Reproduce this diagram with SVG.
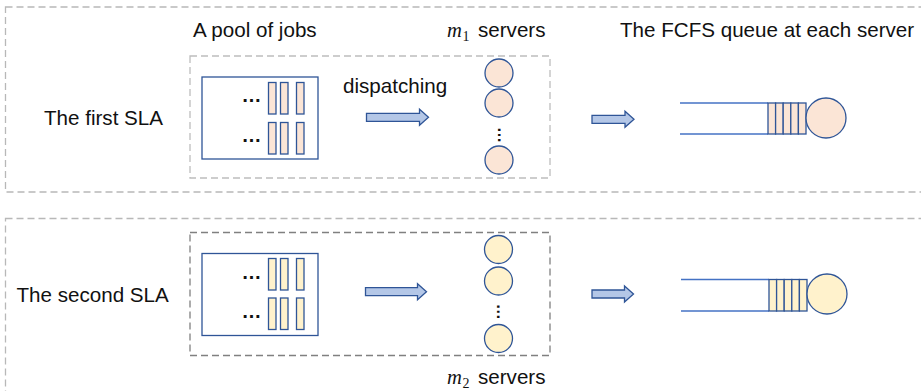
<svg xmlns="http://www.w3.org/2000/svg" width="921" height="391" viewBox="0 0 921 391">
<style>
  text { font-family: "Liberation Sans", Arial, sans-serif; font-size: 20.6px; fill: #111; }
  .math { font-family: "Liberation Serif", "Times New Roman", serif; font-style: italic; }
  .sub { font-family: "Liberation Serif", "Times New Roman", serif; font-size: 14px; }
  .outer { fill: none; stroke: #b8b8b8; stroke-width: 1.3; stroke-dasharray: 7 4; }
  .inner1 { fill: none; stroke: #bdbdbd; stroke-width: 1.3; stroke-dasharray: 7 4; }
  .inner2 { fill: none; stroke: #808080; stroke-width: 1.3; stroke-dasharray: 7 4; }
  .pool { fill: #fff; stroke: #2f5597; stroke-width: 1.3; }
  .bar1 { fill: #fbe5d6; stroke: #2f5597; stroke-width: 1.3; }
  .bar2 { fill: #fff2cc; stroke: #2f5597; stroke-width: 1.3; }
  .qline { stroke: #4472c4; stroke-width: 1.3; fill: none; }
  .arrow { fill: #b4c7e7; stroke: #2f5597; stroke-width: 1.3; stroke-linejoin: miter; }
  .dots { font-size: 20px; font-weight: bold; }
  .vdots { font-size: 16px; font-weight: bold; text-anchor: middle; }
</style>

<!-- SLA frames -->
<g id="sla1-frame">
  <rect class="outer" x="5.5" y="7" width="940" height="185"/>
  <text x="44" y="124.5">The first SLA</text>
</g>
<g id="sla2-frame">
  <rect class="outer" x="5.5" y="218.5" width="940" height="200"/>
  <text x="16.5" y="301.5">The second SLA</text>
</g>

<!-- headers -->
<g id="headers">
  <text x="193" y="36.5">A pool of jobs</text>
  <text x="447" y="36.5"><tspan class="math">m</tspan><tspan class="sub" x="462.5" y="40.5">1</tspan><tspan x="478" y="36.5">servers</tspan></text>
  <text x="620" y="36.5">The FCFS queue at each server</text>
</g>

<!-- SLA 1 -->
<g id="sla1-dispatch-box">
  <rect class="inner1" x="190" y="56" width="360" height="122"/>
  <text x="343" y="92.5">dispatching</text>
</g>
<g id="sla1-pool">
  <rect class="pool" x="202" y="77" width="116" height="82"/>
  <text class="dots" x="241.5" y="101.5">…</text>
  <text class="dots" x="241.5" y="141.5">…</text>
  <rect class="bar1" x="268.5" y="82.5" width="7.5" height="31.5"/>
  <rect class="bar1" x="280.5" y="82.5" width="7.5" height="31.5"/>
  <rect class="bar1" x="296.5" y="82.5" width="7.5" height="31.5"/>
  <rect class="bar1" x="268.5" y="122.5" width="7.5" height="31.5"/>
  <rect class="bar1" x="280.5" y="122.5" width="7.5" height="31.5"/>
  <rect class="bar1" x="296.5" y="122.5" width="7.5" height="31.5"/>
</g>
<g id="sla1-servers">
  <circle class="bar1" cx="499" cy="73" r="14"/>
  <circle class="bar1" cx="499" cy="103" r="14"/>
  <text class="vdots" x="497.5" y="135" transform="rotate(90 497.5 135)">…</text>
  <circle class="bar1" cx="499" cy="160" r="14"/>
</g>
<g id="sla1-queue">
  <line class="qline" x1="680" y1="103" x2="768" y2="103"/>
  <line class="qline" x1="680" y1="134" x2="768" y2="134"/>
  <rect class="bar1" x="768" y="103" width="7.6" height="31"/>
  <rect class="bar1" x="775.6" y="103" width="7.6" height="31"/>
  <rect class="bar1" x="783.2" y="103" width="7.6" height="31"/>
  <rect class="bar1" x="790.8" y="103" width="7.6" height="31"/>
  <rect class="bar1" x="798.4" y="103" width="7.6" height="31"/>
  <circle class="bar1" cx="826" cy="118" r="20"/>
</g>

<!-- SLA 2 -->
<g id="sla2-dispatch-box">
  <rect class="inner2" x="190" y="232.5" width="360" height="123"/>
  <text x="447" y="384"><tspan class="math">m</tspan><tspan class="sub" x="462.5" y="388">2</tspan><tspan x="478" y="384">servers</tspan></text>
</g>
<g id="sla2-pool">
  <rect class="pool" x="202" y="253.5" width="116" height="82"/>
  <text class="dots" x="241.5" y="278.5">…</text>
  <text class="dots" x="241.5" y="317.5">…</text>
  <rect class="bar2" x="268.5" y="258.5" width="7.5" height="31.5"/>
  <rect class="bar2" x="280.5" y="258.5" width="7.5" height="31.5"/>
  <rect class="bar2" x="296.5" y="258.5" width="7.5" height="31.5"/>
  <rect class="bar2" x="268.5" y="298" width="7.5" height="31.5"/>
  <rect class="bar2" x="280.5" y="298" width="7.5" height="31.5"/>
  <rect class="bar2" x="296.5" y="298" width="7.5" height="31.5"/>
</g>
<g id="sla2-servers">
  <circle class="bar2" cx="498.5" cy="249.5" r="14"/>
  <circle class="bar2" cx="498.5" cy="281" r="14"/>
  <text class="vdots" x="497" y="311.7" transform="rotate(90 497 311.7)">…</text>
  <circle class="bar2" cx="498.5" cy="338.5" r="14"/>
</g>
<g id="sla2-queue">
  <line class="qline" x1="681" y1="279.5" x2="769" y2="279.5"/>
  <line class="qline" x1="681" y1="311" x2="769" y2="311"/>
  <rect class="bar2" x="769" y="279.5" width="7.6" height="31.5"/>
  <rect class="bar2" x="776.6" y="279.5" width="7.6" height="31.5"/>
  <rect class="bar2" x="784.2" y="279.5" width="7.6" height="31.5"/>
  <rect class="bar2" x="791.8" y="279.5" width="7.6" height="31.5"/>
  <rect class="bar2" x="799.4" y="279.5" width="7.6" height="31.5"/>
  <circle class="bar2" cx="827" cy="294" r="20"/>
</g>

<!-- connectors -->
<g id="connectors">
  <polygon class="arrow" points="366.5,113.3 419.5,113.3 419.5,109.3 428.5,117.3 419.5,125.3 419.5,121.3 366.5,121.3"/>
  <polygon class="arrow" points="592,115.3 625,115.3 625,111.3 634,119.3 625,127.3 625,123.3 592,123.3"/>
  <polygon class="arrow" points="365.5,287.7 417.5,287.7 417.5,283.7 426.5,291.7 417.5,299.7 417.5,295.7 365.5,295.7"/>
  <polygon class="arrow" points="592,290 624.5,290 624.5,286 633.5,294 624.5,302 624.5,298 592,298"/>
</g>
</svg>
